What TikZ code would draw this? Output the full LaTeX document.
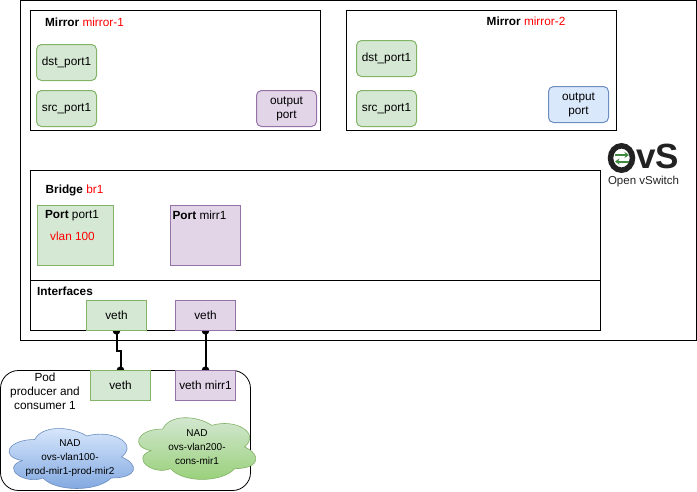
\documentclass[tikz,border=0pt]{standalone}
\usepackage{fontspec}
\setmainfont{Liberation Sans}
\usetikzlibrary{arrows.meta,backgrounds}
\definecolor{grnfill}{HTML}{D5E8D4}
\definecolor{grnline}{HTML}{82B366}
\definecolor{grnshade}{HTML}{97D077}
\definecolor{purfill}{HTML}{E1D5E7}
\definecolor{purline}{HTML}{9673A6}
\definecolor{blufill}{HTML}{DAE8FC}
\definecolor{bluline}{HTML}{6C8EBF}
\definecolor{blushade}{HTML}{7EA6E0}
\definecolor{logogreen}{HTML}{3F8A3F}
\definecolor{logodark}{HTML}{222222}
\tikzset{
	txt/.style={inner sep=0pt,font=\fontsize{11.8}{14}\selectfont,align=center},
	small/.style={inner sep=0pt,font=\fontsize{10}{14.3}\selectfont,align=center},
	frame/.style={draw=black,line width=1pt},
	sized/.style={outer sep=0pt,inner sep=0pt,line width=1pt,font=\fontsize{11.8}{14}\selectfont,align=center},
	grnport/.style={sized,draw=grnline,fill=grnfill,rounded corners=5pt,minimum width=60pt,minimum height=36pt},
	purport/.style={grnport,draw=purline,fill=purfill},
	bluport/.style={grnport,draw=bluline,fill=blufill},
	grnveth/.style={sized,draw=grnline,fill=grnfill,minimum width=60pt,minimum height=30pt},
	purveth/.style={grnveth,draw=purline,fill=purfill},
	wire/.style={line width=2pt,shorten <=-3.5pt,shorten >=-3.5pt,{Circle[length=7.5pt]}-{Circle[length=7.5pt]}},
	logoarrow/.style={logogreen,line width=2pt,-{Stealth[length=4.5pt,width=6pt]}}
}
% cloud outline, args: left, top, width, height
\newcommand{\cloudpath}[4]{
	(#1+.25*#3,#2+.25*#4) .. controls (#1+.05*#3,#2+.25*#4) and (#1,#2+.5*#4) .. (#1+.16*#3,#2+.55*#4)
	.. controls (#1,#2+.66*#4) and (#1+.18*#3,#2+.9*#4) .. (#1+.31*#3,#2+.8*#4)
	.. controls (#1+.4*#3,#2+#4) and (#1+.7*#3,#2+#4) .. (#1+.8*#3,#2+.8*#4)
	.. controls (#1+#3,#2+.8*#4) and (#1+#3,#2+.6*#4) .. (#1+.875*#3,#2+.5*#4)
	.. controls (#1+#3,#2+.3*#4) and (#1+.8*#3,#2+.1*#4) .. (#1+.625*#3,#2+.2*#4)
	.. controls (#1+.5*#3,#2+.05*#4) and (#1+.3*#3,#2+.05*#4) .. (#1+.25*#3,#2+.25*#4) -- cycle
}
\begin{document}
\begin{tikzpicture}[x=1pt,y=-1pt]
	\useasboundingbox (0,0) rectangle (697,491);
	% switch and mirrors
	\draw[frame] (20.5,0.5) rectangle (696,340.5);
	\draw[frame] (30.5,10.5) rectangle (320.5,130);
	\draw[frame] (346.5,10.5) rectangle (616.5,130);
	\node[txt] (mirrorA) at (84.5,22.5) {\textbf{Mirror} \textcolor{red}{mirror-1}};
	\node[txt] (mirrorB) at (526,21) {\textbf{Mirror} \textcolor{red}{mirror-2}};
	\node[grnport] (dstA) at (66.5,62.5) {dst\_port1};
	\node[grnport] (srcA) at (66.5,108.5) {src\_port1};
	\node[purport] (outA) at (286.5,108.5) {output\\port};
	\node[grnport] (dstB) at (386.5,58.5) {dst\_port1};
	\node[grnport] (srcB) at (386.5,108.5) {src\_port1};
	\node[bluport] (outB) at (578.5,104.5) {output\\port};

	% bridge
	\draw[frame] (30.5,170.5) rectangle (600.5,330.5);
	\draw[frame] (30.5,280.5) -- (600.5,280.5);
	\node[txt] (bridge) at (74.5,190.5) {\textbf{Bridge} \textcolor{red}{br1}};
	\node[sized,draw=grnline,fill=grnfill,minimum width=76pt,minimum height=60pt] (portA) at (75.5,235.5) {};
	\node[sized,draw=purline,fill=purfill,minimum width=70pt,minimum height=60pt] (portB) at (205.5,235.5) {};
	\node[txt] (portAtxt) at (72,215.5) {\textbf{Port} port1};
	\node[txt,text=red] (vlan) at (72.5,236) {vlan 100};
	\node[txt] (portBtxt) at (199.5,215.5) {\textbf{Port} mirr1};
	\node[txt] (ifaces) at (65,291) {\textbf{Interfaces}};
	\node[grnveth] (vethA) at (116.5,315.5) {veth};
	\node[purveth] (vethB) at (205.5,315.5) {veth};

	% pod
	\draw[frame,rounded corners=18pt,line width=.8pt] (0.5,370.5) rectangle (250.5,490.5);
	\node[txt] (pod) at (45,391) {Pod\\producer and\\consumer 1};
	\node[grnveth] (podA) at (120.5,385.5) {veth};
	\node[purveth] (podB) at (205.5,385.5) {veth mirr1};
	\begin{scope}[on background layer]
		\draw[wire] (vethA.south) -- ++(0,20) -| (podA.north);
		\draw[wire] (vethB.south) -- (podB.north);
	\end{scope}

	% clouds
	\shadedraw[top color=blufill,bottom color=blushade,draw=bluline,line width=.6pt] \cloudpath{0}{422}{139}{70};
	\node[small] (nadA) at (70,458) {NAD\\ovs-vlan100-\\prod-mir1-prod-mir2};
	\shadedraw[top color=grnfill,bottom color=grnshade,draw=grnline,line width=.6pt] \cloudpath{130}{411}{131}{72};
	\node[small] (nadB) at (197,447) {NAD\\ovs-vlan200-\\cons-mir1};

	% logo
	\draw[logodark,line width=5.5pt] (621.5,158) circle[x radius=11,y radius=12.2];
	\draw[logoarrow] (615,155) -- (629,155);
	\draw[logoarrow] (629,161.5) -- (615,161.5);
	\node[inner sep=0pt,text=logodark,font=\fontsize{35}{35}\selectfont\bfseries] (logoVS) at (657.5,156) {vS};
	\node[inner sep=0pt,text=logodark,font=\fontsize{11.5}{14}\selectfont] (logoTxt) at (643.5,181.5) {Open vSwitch};
\end{tikzpicture}
\end{document}
